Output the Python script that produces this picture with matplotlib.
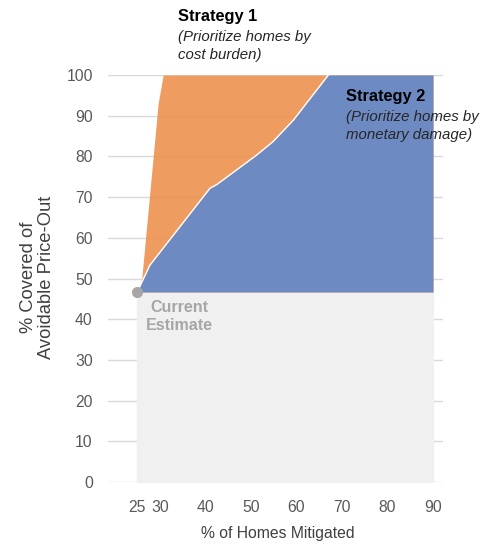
import matplotlib
matplotlib.use("Agg")
from matplotlib import pyplot as plt

plt.rcParams['font.family'] = ['Liberation Sans', 'DejaVu Sans']

# current estimate (starting point of both strategies)
current_x = 25
current_y = 46.7

# Strategy 1: prioritize homes by cost burden
s1_x = [25, 26, 29.6, 30.7, 90]
s1_y = [46.7, 50, 93, 100, 100]

# Strategy 2: prioritize homes by monetary damage
s2_x = [25, 27.8, 41, 42.5, 51.2, 54.8, 59.3, 67, 90]
s2_y = [46.7, 53.3, 72.2, 73.1, 80.3, 83.6, 88.9, 100, 100]

x_ticks = [25, 30, 40, 50, 60, 70, 80, 90]
y_ticks = [0, 10, 20, 30, 40, 50, 60, 70, 80, 90, 100]

fig = plt.figure(figsize=(4.89, 5.48), dpi=100)
ax = fig.add_axes([0.221, 0.1204, 0.685, 0.7427])

ax.set_xlim(18.6, 92.2)
ax.set_ylim(0, 100)
ax.set_xticks(x_ticks)
ax.set_yticks(y_ticks)
ax.grid(axis='y', color='#D9D9D9', linewidth=1)
ax.set_axisbelow(True)
for s in ax.spines.values():
    s.set_visible(False)
ax.tick_params(length=0, labelsize=11.3, colors='#595959')
ax.tick_params(axis='x', pad=13)
ax.tick_params(axis='y', pad=11)

# region below the current estimate
ax.fill_between([current_x, 90], 0, current_y, color='#F0F0F0', zorder=2)

ax.fill_between(s1_x, current_y, s1_y, color='#EE9150', alpha=0.9, linewidth=0, zorder=3)
ax.fill_between(s2_x, current_y, s2_y, color='#5F88CD', alpha=0.9, linewidth=0, zorder=4)
ax.plot(s2_x[:-1], s2_y[:-1], color='white', linewidth=1, zorder=5)

ax.plot([current_x], [current_y], 'o', color='#A6A6A6', markersize=7, zorder=6, clip_on=False)
ax.text(34.2, 44.6, 'Current\nEstimate', color='#A6A6A6', fontsize=11.5, fontweight='bold',
        va='top', ha='center', multialignment='center', linespacing=1.2, zorder=6)

ax.text(34.0, 114.5, 'Strategy 1', fontsize=11.8, fontweight='bold', va='center', clip_on=False)
ax.text(34.0, 109.3, '(Prioritize homes by', fontsize=10.8, style='italic', color='#262626',
        va='center', clip_on=False)
ax.text(34.0, 104.9, 'cost burden)', fontsize=10.8, style='italic', color='#262626',
        va='center', clip_on=False)

ax.text(70.9, 94.6, 'Strategy 2', fontsize=11.8, fontweight='bold', va='center', zorder=7)
ax.text(70.9, 89.7, '(Prioritize homes by', fontsize=10.8, style='italic', color='#262626',
        va='center', zorder=7)
ax.text(70.9, 85.3, 'monetary damage)', fontsize=10.8, style='italic', color='#262626',
        va='center', zorder=7)

ax.set_xlabel('% of Homes Mitigated', fontsize=11.3, color='#404040')
ax.xaxis.set_label_coords(0.507, -0.108)
ax.set_ylabel('% Covered of\nAvoidable Price-Out', fontsize=13.2, color='#404040', linespacing=1.1)
ax.yaxis.set_label_coords(-0.158, 0.504)

plt.savefig('out.png', dpi=100)
